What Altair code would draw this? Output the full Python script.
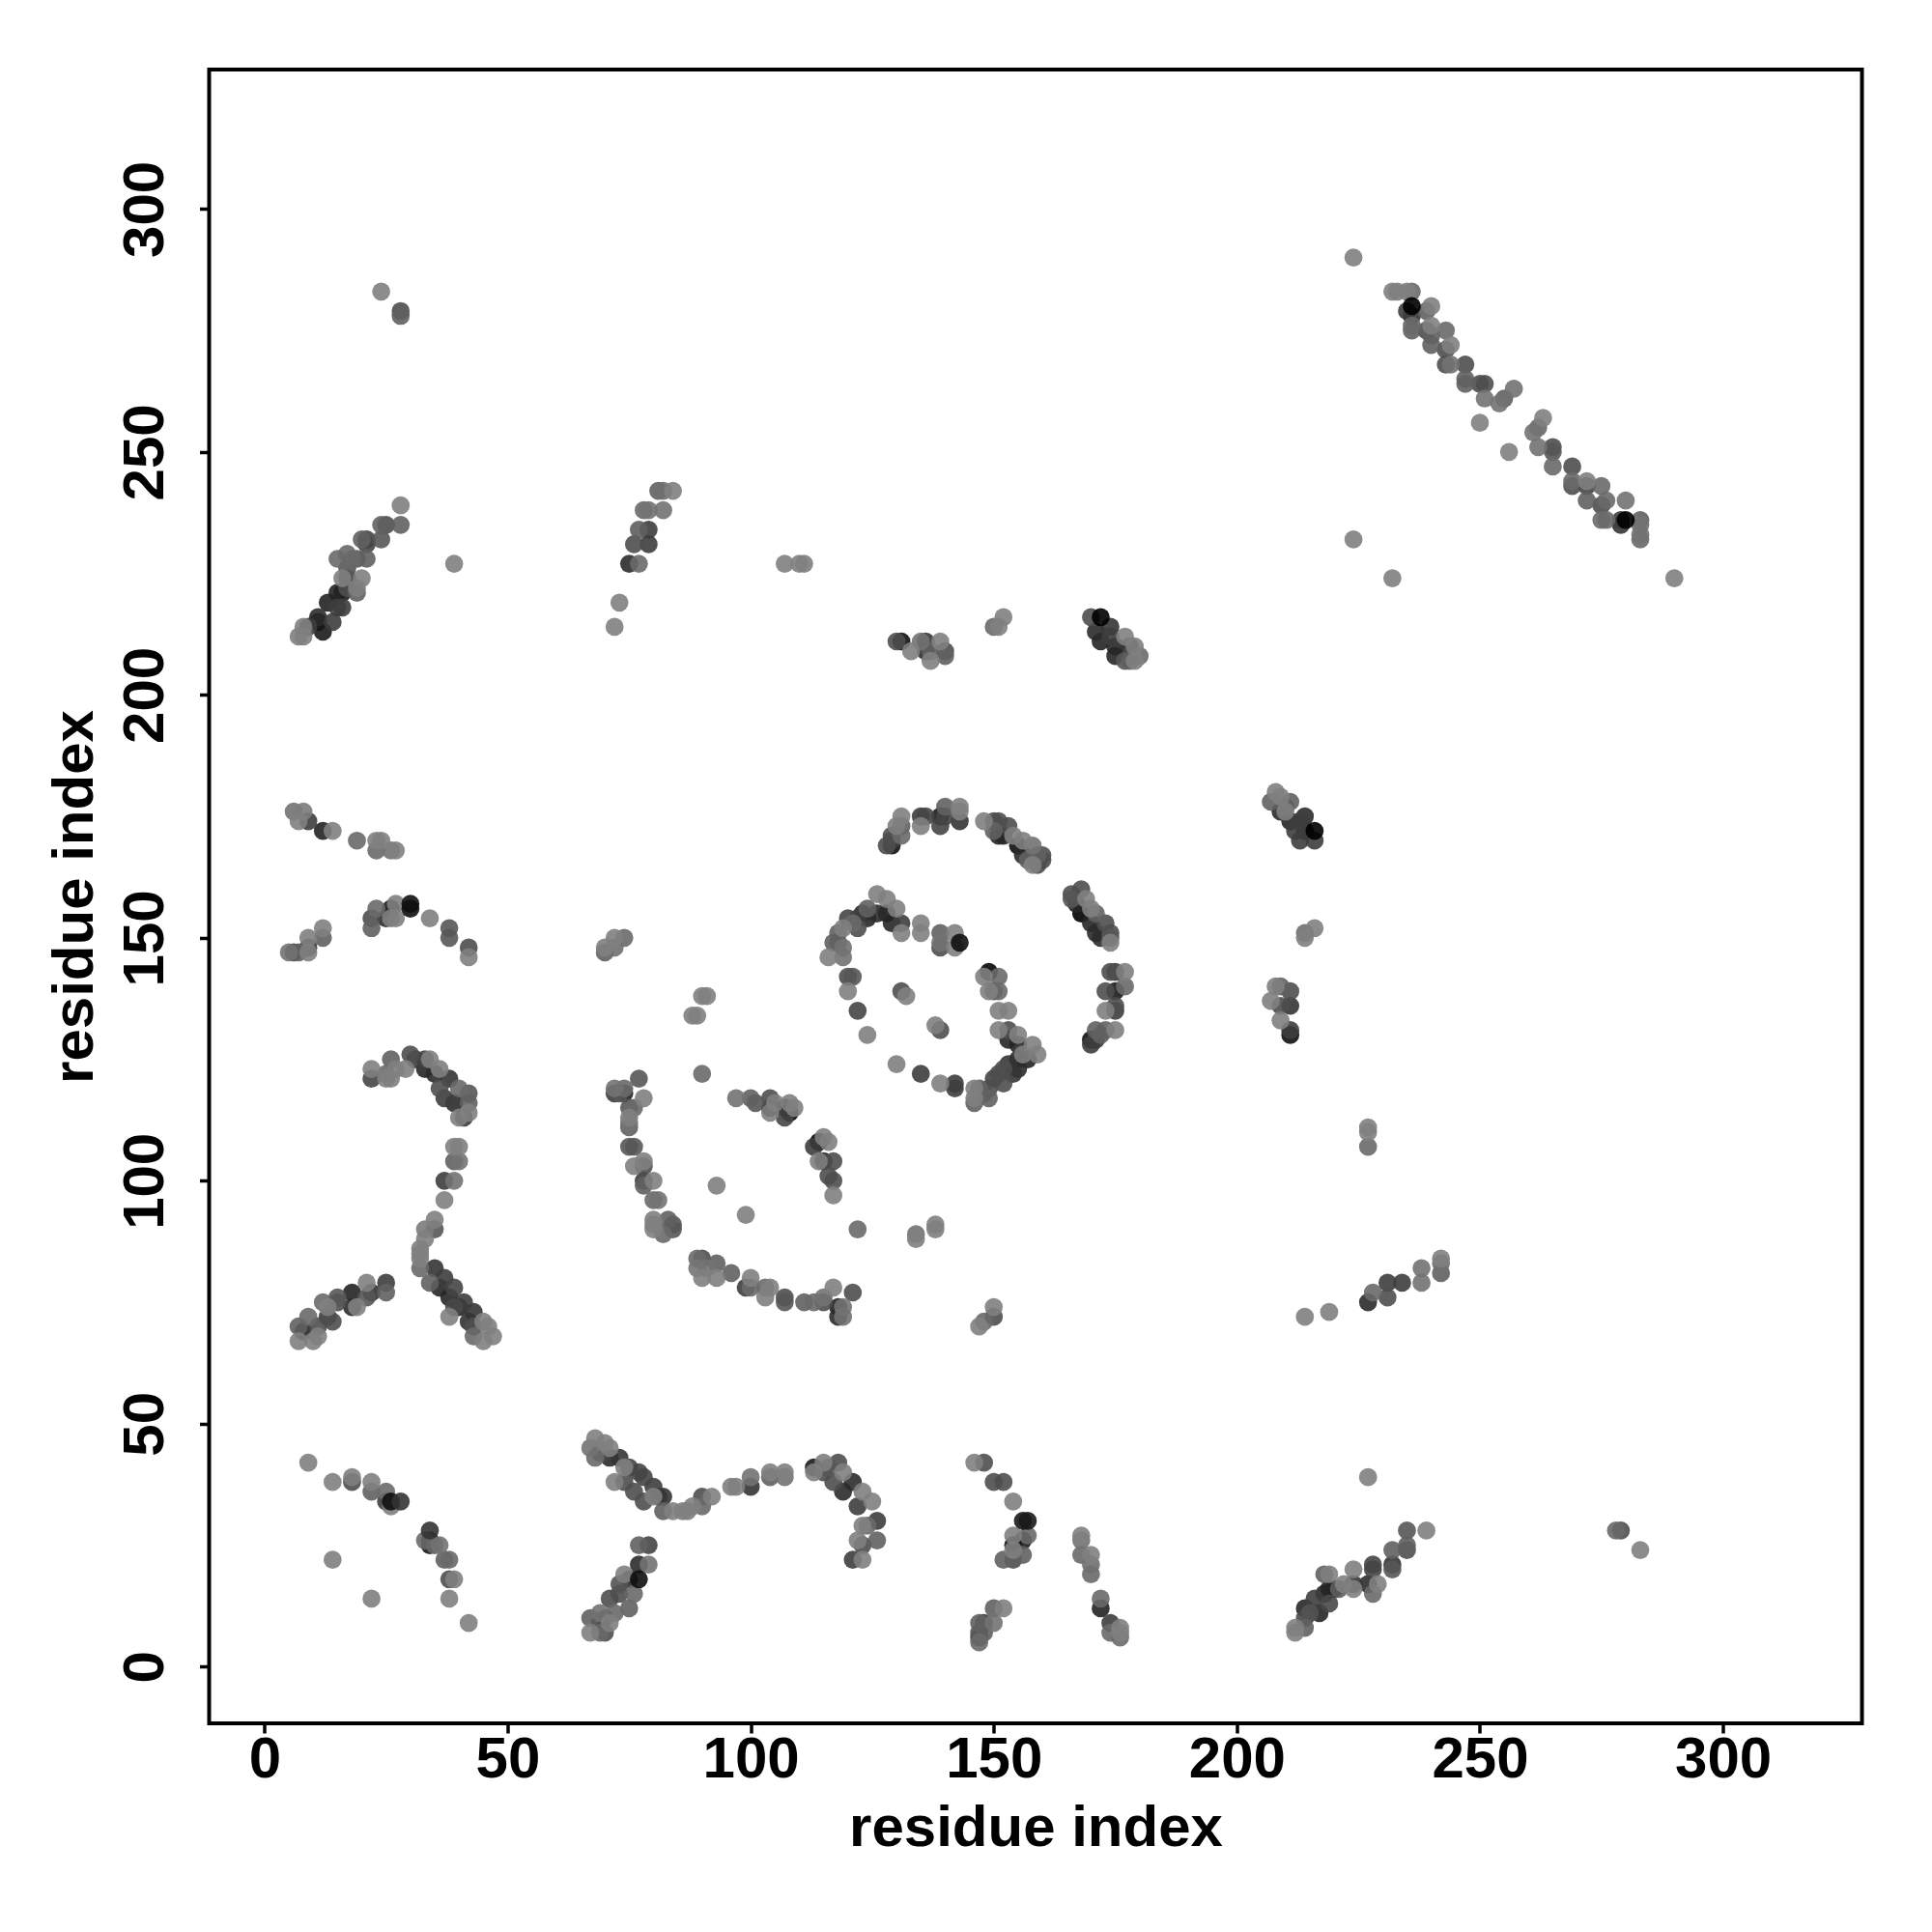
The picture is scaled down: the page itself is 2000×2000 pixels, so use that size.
import altair as alt
import pandas as pd

L = 140
# each entry: residue x, residue y, grey level of the point
arc_a = [(9,42,L),(14,38,L),(18,38,96),(18,39,L),(22,36,112),(22,38,L),(25,34,80),(25,36,122),(26,33,L),(26,34,40),(28,34,72),
 (33,26,120),(34,25,48),(34,26,32),(34,28,72),(35,25,120),(36,25,128),(37,22,112),(38,22,120),(38,18,96),(39,18,L),(38,14,L),(42,9,L),(14,22,L),(22,14,L)]
arc_b = [(22,121,88),(22,123,L),(25,121,L),(26,121,L),(25,122,120),(26,125,112),(27,123,L),(29,123,L),(30,126,96),(31,125,80),(33,123,60),(33,125,85),(34,125,L),
 (35,122,64),(36,123,L),(36,119,96),(37,117,80),(38,121,72),(39,116,64),(41,113,72),(40,113,L),(40,119,120),(42,118,104),(42,116,112),(42,114,L)]
stem = [(39,107,L),(40,107,L),(39,104,112),(40,104,128),(37,100,80),(39,100,128),(37,96,L),(35,90,104),(35,92,L),(33,90,136),(33,88,L),(32,86,L),(32,85,L),(32,84,L),(32,82,120)]
arm_r = [(35,82,72),(34,79,112),(37,80,80),(36,78,60),(39,78,88),(38,76,60),(38,72,L),(41,75,80),(40,74,60),(39,74,90),(43,73,72),(42,71,70),(43,70,96),(43,68,120),(45,71,L),(46,70,L),(45,67,L),(47,68,L)]
arm_l = [(7,70,112),(7,67,L),(8,69,60),(9,72,120),(10,67,L),(11,68,L),(11,70,96),(12,75,120),(13,72,80),(13,74,L),(14,71,96),(15,75,96),(15,76,104),(18,74,64),(18,77,56),(19,74,L),(21,76,104),(21,79,L),(22,77,72),(25,77,112),(25,79,80)]
band_a = [(6,176,128),(8,176,136),(7,174,L),(9,174,80),(12,172,56),(14,172,L),(19,170,120),(23,170,L),(24,170,L),(23,168,120),(26,168,128),(27,168,L)]
band_b = [(5,147,128),(6,147,85),(7,147,112),(9,148,72),(9,147,L),(9,150,L),(12,150,112),(12,152,L)]
band_c = [(22,152,112),(22,154,96),(23,156,120),(25,154,64),(26,156,48),(26,154,L),(27,157,L),(27,154,L),(30,156,40),(30,157,40),(34,154,L),(38,150,104),(38,152,104),(42,146,L),(42,148,96)]
zig_a = [(67,45,128),(68,47,L),(68,43,120),(69,44,96),(70,46,L),(71,43,64),(71,45,L),(72,38,L),(73,43,72),(74,38,96),(74,41,L),(75,41,88),(77,40,88),(76,36,96),(78,39,88),
 (78,34,96),(80,37,80),(80,35,L),(81,35,70),(82,35,72),(82,32,112),(84,32,L),(86,32,L),(87,32,L),(88,33,L),(90,33,120),(90,35,96),(92,35,L)]
zig_b = [(96,37,L),(97,37,L),(100,37,72),(100,39,128),(104,39,112),(104,40,L),(107,39,128),(107,40,L)]
zig_c = [(113,41,48),(113,40,L),(115,40,96),(115,42,L),(116,41,104),(118,42,96),(117,38,96),(119,40,L),(119,36,64),(121,38,64),(122,33,80),(123,36,L),(125,34,L),(126,30,80),(123,29,L),(124,29,120),
 (123,25,96),(122,26,L),(126,26,112),(121,22,80),(123,22,L)]
hook = [(67,10,112),(69,11,128),(69,9,60),(67,7,L),(69,7,120),(70,7,96),(70,10,96),(71,9,L),(72,11,120),(71,14,96),(73,15,96),(73,17,100),(75,12,112),(76,15,120),(74,19,L),(75,18,64),(77,18,40),(77,21,64),(79,21,128),(77,25,112),(79,25,88)]
spur_a = [(146,42,L),(148,42,96),(150,38,96),(152,38,96),(154,34,L),(156,30,48),(157,30,48),(154,25,48),(156,26,48),(154,27,L),(157,27,120),(154,24,L),(156,23,112),(152,22,112),(154,22,96)]
spur_b = [(168,27,L),(168,26,128),(168,23,120),(170,23,L),(170,21,125),(170,19,120),(172,12,56),(172,14,120),(174,9,80),(174,7,120),(176,6,120),(176,7,L),(176,8,L)]
spur_c = [(147,5,120),(147,6,80),(147,7,104),(147,9,112),(148,7,110),(148,9,80),(150,9,128),(150,12,112),(152,12,L)]
diag_a = [(227,39,L),(235,24,96),(235,25,112),(235,28,104),(239,28,L),(232,20,104),(232,21,72),(232,24,112),(228,20,88),(228,21,88),(224,20,L),(228,15,120),(227,17,64),(229,17,L),
 (224,16,L),(224,17,72),(222,17,L),(218,19,112),(219,19,L),(221,16,110),(220,16,48),(219,16,56),(218,15,60),(216,14,80),(219,13,90),(217,11,60),(215,11,100),(214,12,60),(214,10,90),(214,8,112),(212,8,L),(212,7,L)]
far_low = [(278,28,120),(279,28,96),(283,24,L)]
left_c = [(88,134,L),(89,134,L),(90,138,L),(91,138,L),(90,122,120),(93,99,L),(99,93,L),(122,90,120),(134,88,L),(134,89,128),(138,90,L),(138,91,L)]
curve_a = [(77,121,104),(72,118,80),(72,119,128),(73,118,104),(74,118,56),(74,119,120),(78,117,L),(75,115,104),(76,115,120),(75,113,L),(75,112,128),(75,111,112),(75,107,104),(76,107,104),
 (76,103,L),(78,103,96),(78,104,L),(78,99,112),(78,100,80),(80,100,L),(80,96,120),(81,96,128),(80,92,L),(80,91,L),(80,90,L),(82,89,120),(83,92,112),(84,90,104),(84,91,104)]
curve_b = [(89,82,130),(89,84,120),(90,84,96),(90,80,L),(91,82,128),(93,80,L),(93,83,112),(96,81,112),(99,78,80),(100,78,120),(100,80,L),(103,76,L),(103,78,120),(104,78,L),(107,75,104),(107,76,96),
 (111,75,112),(113,75,120),(115,75,96),(115,76,128),(117,78,L),(121,77,96),(118,72,64),(118,74,56),(119,72,128),(119,74,128)]
curve_c = [(97,117,128),(100,117,112),(101,116,104),(104,117,96),(104,114,L),(104,115,48),(105,116,L),(107,113,88),(107,115,24),(108,114,32),(108,116,L),(109,115,L),
 (113,107,80),(114,108,24),(115,109,L),(116,108,L),(114,104,L),(115,104,60),(117,104,96),(116,101,96),(117,100,96),(117,97,L)]
ring_a = [(131,175,L),(131,173,112),(130,173,L),(129,171,96),(131,171,120),(128,169,96),(129,170,80),(129,169,40),(135,173,L),(135,175,80),(136,175,88),(139,173,88),(139,175,48),(140,175,88),(140,177,112),(143,174,72),(143,176,L),(143,177,L)]
ring_b = [(148,174,L),(150,174,96),(151,174,96),(150,172,112),(153,173,96),(151,171,60),(152,171,56),(154,171,L),(155,169,40),(156,170,L),(158,169,128),(156,167,64),(157,166,112),(159,167,112),(158,165,L),(159,165,96),(160,166,96),(160,167,96)]
ring_c = [(166,158,104),(166,159,96),(167,157,60),(168,160,96),(169,158,L),(168,155,24),(170,156,L),(171,155,112),(170,153,60),(173,153,96),(171,151,64),(172,150,64),(174,151,96),(174,150,104),(174,149,L)]
ring_d = [(174,143,96),(175,143,80),(177,143,L),(173,139,96),(175,139,48),(177,140,120),(173,135,L),(175,136,96),(175,135,80),(170,128,80),(170,129,40),(171,129,72),(172,130,112),(171,131,112),(173,131,112),(175,131,L)]
inner_a = [(116,146,L),(119,146,128),(117,149,112),(118,149,110),(118,151,112),(119,148,128),(119,152,L),(120,154,88),(121,153,120),(122,152,96),(122,154,80),(123,155,64),(124,154,60),(124,156,112),(126,155,64),(126,159,L),
 (128,155,48),(128,158,L),(129,153,60),(130,156,L),(131,153,80),(131,151,L),(135,151,L),(135,153,L),(139,148,96),(139,149,128),(139,151,112),(142,148,L),(142,151,L),(143,149,40)]
inner_b = [(120,142,96),(121,142,104),(120,139,L),(122,135,88),(124,130,L),(131,139,96),(132,138,L),(138,132,L),(139,131,96),(130,124,L),(135,122,80),(139,120,L),(142,119,80),(142,120,80)]
inner_c = [(146,116,112),(146,117,L),(146,119,L),(147,119,112),(148,118,100),(149,117,112),(149,119,96),(150,121,88),(151,122,96),(152,120,96),(152,123,96),(153,124,72),(154,122,72),(155,123,64),(155,125,60),(157,125,56),(156,126,L),(155,128,60),(158,128,L),(159,126,L),
 (153,129,60),(153,131,96),(155,130,L),(151,131,L),(151,135,L),(153,135,L),(148,142,L),(149,143,32),(151,142,120),(149,139,L),(150,139,96),(151,139,120)]
top_l = [(28,235,112),(28,239,L),(24,235,112),(25,235,96),(20,232,112),(21,231,88),(21,232,88),(24,232,104),(15,228,120),(17,229,120),(18,228,120),(19,228,104),(21,228,112),(17,226,104),(16,224,L),(17,224,80),(20,224,L),(17,222,96),(15,221,56),(16,221,56),(19,221,112),(19,222,L),
 (13,219,56),(15,218,80),(16,218,80),(11,215,16),(11,216,64),(14,215,80),(12,213,48),(8,214,L),(9,214,80),(7,212,L),(8,212,L),(39,227,L),(24,283,L),(28,278,112),(28,279,96)]
top_r = [(224,290,L),(232,283,L),(233,283,L),(235,283,L),(236,283,120),(235,279,80),(236,278,72),(236,280,24),(236,276,120),(236,275,112),(239,279,112),(240,280,L),(239,275,96),(240,274,112),(240,276,L),(243,275,120),(240,272,112),(243,271,96),(244,272,L),(243,268,96),(244,268,128),(247,265,112),(247,264,112),(247,268,96),
 (250,264,96),(251,264,96),(251,261,128),(254,260,128),(255,261,112),(257,263,128),(250,256,L),(256,250,L),(261,254,128),(262,255,120),(263,257,L),(262,251,128),(265,250,104),(265,251,96),(265,247,120),(269,244,120),(269,243,96),(269,247,96),(272,243,88),(272,244,L),(275,243,120),(272,240,112),(275,239,96),(276,240,120),
 (275,236,120),(276,236,120),(279,235,72),(279,236,80),(280,236,24),(280,240,128),(283,232,120),(283,233,128),(283,235,128),(283,236,112),(224,232,L),(232,224,L),(290,224,L)]
mid_top = [(130,211,96),(131,211,40),(133,209,L),(135,211,128),(136,211,72),(136,209,64),(137,209,112),(137,207,L),(139,211,L),(140,209,96),(140,208,112),(150,214,120),(151,214,L),(152,216,L),
 (107,227,L),(110,227,L),(111,227,L)]
mid_r = [(170,216,96),(172,216,0),(171,213,64),(174,214,72),(174,212,80),(172,211,56),(175,210,60),(175,208,60),(177,212,L),(178,210,72),(179,210,L),(177,207,104),(178,207,110),(179,207,L),(180,208,120)]
up_c = [(72,214,L),(73,219,L),(75,227,64),(77,227,120),(76,231,96),(79,231,80),(77,234,110),(79,234,80),(78,238,120),(79,238,128),(82,238,128),(81,242,112),(82,242,125),(84,242,L)]
right_c = [(214,72,L),(219,73,L),(227,75,64),(228,77,120),(231,76,96),(231,79,80),(234,79,80),(238,79,128),(238,82,128),(242,81,112),(242,83,125),(242,84,L),(227,107,120),(227,110,L),(227,111,L)]
pair_a = [(147,70,L),(148,71,120),(150,72,96),(150,74,L),(70,147,112),(70,148,L),(72,148,125),(72,150,L),(74,150,120)]
pair_b = [(207,137,L),(208,140,L),(209,140,112),(211,139,96),(209,136,96),(211,136,72),(209,133,L),(211,131,80),(211,130,40),(214,150,L),(214,151,125),(216,152,L)]
pair_c = [(209,176,64),(207,178,112),(208,180,L),(209,179,L),(210,177,100),(210,176,L),(211,178,112),(211,174,60),(212,172,80),(213,174,80),(214,175,64),(213,170,80),(214,172,60),(216,170,80),(216,172,0)]

clusters = [arc_a, arc_b, stem, arm_r, arm_l, band_a, band_b, band_c, zig_a, zig_b, zig_c, hook, spur_a, spur_b, spur_c, diag_a, far_low,
            left_c, curve_a, curve_b, curve_c, ring_a, ring_b, ring_c, ring_d, inner_a, inner_b, inner_c, top_l, top_r, mid_top, mid_r,
            up_c, right_c, pair_a, pair_b, pair_c]
# dark points that sit on top of their neighbours in the picture
on_top = [(172,216),(216,172),(236,280),(280,236),(143,149),(30,156),(30,157),(156,30),(157,30),(26,34),(28,34),(34,28),(77,18)]
tick_values = [0, 50, 100, 150, 200, 250, 300]
x_range = [-11.4, 328.6]
y_range = [-11.67, 328.7]
axis_title = "residue index"

OP = 0.9
rows = []
for c in clusters:
    for x, y, g in c:
        v = max(0, round((g - 255 * (1 - OP)) / OP))
        rows.append({"x": x, "y": y, "fill": f"#{v:02x}{v:02x}{v:02x}", "rank": 300 if (x, y) in on_top else g})
df = pd.DataFrame(rows).sort_values("rank", kind="stable")

FONT = "Liberation Sans"
def axis(angle=0, pad=3, tpad=10, **kw):
    return alt.Axis(values=tick_values, grid=False, domain=False, tickSize=10, tickWidth=3.5, tickColor="black",
                    labelFont=FONT, labelFontWeight="bold", labelFontSize=60, labelColor="black", labelAngle=angle,
                    labelPadding=pad, labelOverlap=False, labelFlush=False, titleFont=FONT, titleFontWeight="bold", titleFontSize=60,
                    titleColor="black", titlePadding=tpad, **kw)

chart = alt.Chart(df).mark_circle(size=350, opacity=OP).encode(
    x=alt.X("x:Q", scale=alt.Scale(domain=x_range, nice=False, zero=False), title=axis_title, axis=axis(pad=-2, tpad=12)),
    y=alt.Y("y:Q", scale=alt.Scale(domain=y_range, nice=False, zero=False), title=axis_title,
            axis=axis(angle=270, pad=25, tpad=12, labelAlign="center", labelBaseline="bottom")),
    fill=alt.Fill("fill:N", scale=None),
).properties(width=1711, height=1712, background="white", padding={"left": 39.5, "top": 64, "right": 10, "bottom": 10}
).configure_view(stroke="black", strokeWidth=4, fill="white")

chart.save("out.html", embed_options={"renderer": "svg", "actions": False})
